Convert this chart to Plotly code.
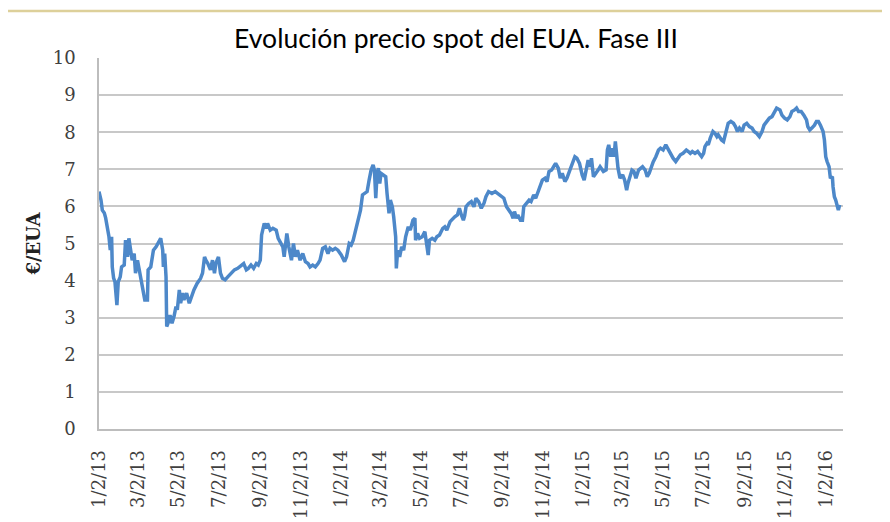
import pandas as pd
import plotly.graph_objects as go

title_text = "Evolución precio spot del EUA. Fase III"
y_title = "€/EUA"
start_date = "2013-01-02"
end_date = "2016-01-28"

tick_labels = ["1/2/13", "3/2/13", "5/2/13", "7/2/13", "9/2/13", "11/2/13",
               "1/2/14", "3/2/14", "5/2/14", "7/2/14", "9/2/14", "11/2/14",
               "1/2/15", "3/2/15", "5/2/15", "7/2/15", "9/2/15", "11/2/15",
               "1/2/16"]

# days since 2013-01-02 and spot price (EUR/EUA)
days_a = [0, 3, 5, 8, 10, 13, 15, 17, 19, 20,
          22, 24, 27, 29, 32, 34, 38, 40, 43, 45,
          48, 50, 53, 55, 58, 63, 67, 69, 73, 74,
          78, 82, 86, 91, 93, 96, 97, 99, 101, 102,
          104, 107, 110, 113, 116, 118, 121, 123, 126, 128,
          132, 136, 139, 143, 148, 153, 156, 159, 161, 164,
          168, 171, 174, 176, 180, 183, 186, 190, 194, 199,
          204, 209, 214, 218, 222, 225, 229, 233, 237, 240,
          243, 245, 249, 252, 254, 258, 262, 267, 270, 274]
price_a = [6.40, 6.17, 5.90, 5.82, 5.69, 5.42, 5.18, 4.82, 5.18, 4.37,
           4.07, 3.97, 3.34, 3.97, 4.10, 4.37, 4.42, 5.09, 4.64, 5.14,
           4.82, 4.55, 4.73, 4.20, 4.55, 4.10, 3.75, 3.48, 3.48, 4.29,
           4.37, 4.82, 4.91, 5.09, 5.14, 4.82, 4.37, 4.73, 4.10, 2.76,
           2.85, 3.07, 2.85, 3.03, 3.30, 3.21, 3.75, 3.39, 3.66, 3.48,
           3.66, 3.39, 3.57, 3.75, 3.93, 4.06, 4.20, 4.64, 4.55, 4.46,
           4.29, 4.55, 4.20, 4.46, 4.64, 4.20, 4.06, 4.02, 4.10, 4.20,
           4.29, 4.33, 4.39, 4.46, 4.29, 4.33, 4.42, 4.33, 4.46, 4.42,
           4.55, 5.23, 5.54, 5.41, 5.54, 5.36, 5.41, 5.36, 5.14, 5.00]

days_b = [277, 279, 283, 286, 290, 293, 296, 299, 303, 307,
          311, 315, 318, 322, 326, 330, 333, 337, 341, 345,
          348, 352, 356, 360, 365, 370, 373, 377, 380, 383,
          387, 390, 394, 397, 400, 404, 407, 410, 413, 415,
          417, 419, 421, 423, 425, 429, 432, 434, 437, 439,
          442, 444, 447, 448, 450, 453, 456, 459, 462, 466,
          469, 473, 476, 477, 480, 483, 487, 491, 493, 496,
          498, 502, 506, 509, 513, 518, 521, 524, 529, 533,
          536, 540, 543, 546, 549, 551, 553, 557, 561, 565]
price_b = [4.91, 4.64, 5.27, 4.91, 4.55, 5.00, 4.64, 4.82, 4.55, 4.73,
           4.51, 4.46, 4.37, 4.42, 4.37, 4.46, 4.55, 4.87, 4.91, 4.73,
           4.87, 4.82, 4.87, 4.82, 4.69, 4.51, 4.64, 5.00, 4.96, 5.09,
           5.36, 5.63, 5.90, 6.31, 6.35, 6.40, 6.71, 6.98, 7.12, 6.98,
           6.22, 6.89, 7.03, 6.62, 6.89, 6.85, 6.80, 6.35, 5.81, 6.17,
           5.99, 5.72, 5.18, 4.33, 4.82, 4.64, 4.91, 4.82, 5.18, 5.45,
           5.36, 5.63, 5.68, 5.09, 5.27, 5.14, 5.18, 5.32, 5.09, 4.69,
           5.09, 5.14, 5.09, 5.18, 5.23, 5.41, 5.45, 5.36, 5.59, 5.68,
           5.72, 5.77, 5.95, 5.77, 5.63, 5.75, 5.99, 6.08, 6.13, 5.99]

days_c = [568, 572, 576, 580, 583, 587, 592, 597, 603, 606,
          610, 614, 618, 621, 624, 626, 629, 631, 635, 638,
          640, 644, 648, 651, 655, 658, 662, 665, 668, 672,
          675, 678, 682, 685, 688, 692, 695, 698, 702, 705,
          709, 713, 717, 720, 724, 728, 731, 734, 737, 740,
          742, 745, 749, 752, 755, 760, 764, 766, 768, 771,
          773, 776, 778, 780, 782, 785, 789, 792, 795, 797,
          800, 803, 806, 809, 813, 816, 819, 823, 826, 829]
price_c = [6.22, 6.13, 5.95, 6.08, 6.26, 6.40, 6.35, 6.40, 6.31, 6.26,
           6.22, 5.99, 5.90, 5.81, 5.68, 5.86, 5.68, 5.77, 5.63, 5.63,
           5.99, 6.08, 6.17, 6.13, 6.31, 6.22, 6.44, 6.53, 6.71, 6.76,
           6.67, 6.94, 6.98, 7.07, 7.16, 7.03, 6.76, 6.89, 6.67, 6.76,
           6.94, 7.16, 7.34, 7.30, 7.16, 6.85, 6.71, 6.98, 7.25, 7.07,
           7.30, 6.80, 6.89, 6.98, 7.07, 6.94, 6.98, 7.52, 7.66, 7.34,
           7.57, 7.34, 7.75, 7.25, 7.03, 6.76, 6.85, 6.71, 6.44, 6.62,
           6.85, 6.98, 6.94, 6.76, 6.98, 7.03, 7.07, 6.98, 6.80, 6.89]

days_d = [833, 835, 839, 843, 846, 850, 854, 858, 861, 865,
          869, 873, 876, 880, 885, 888, 891, 894, 898, 902,
          905, 908, 911, 913, 916, 918, 921, 925, 928, 931,
          933, 936, 938, 941, 943, 946, 948, 952, 956, 959,
          962, 965, 969, 972, 976, 980, 984, 987, 991, 995,
          999, 1002, 1006, 1010, 1014, 1018, 1021, 1026, 1029, 1033,
          1037, 1041, 1044, 1048, 1051, 1054, 1058, 1062, 1066, 1068,
          1071, 1074, 1078, 1081, 1084, 1087, 1091, 1093, 1095, 1097,
          1100, 1102, 1105, 1106, 1108, 1110, 1112, 1114, 1116]
price_d = [7.12, 7.20, 7.34, 7.52, 7.57, 7.52, 7.66, 7.52, 7.39, 7.30,
           7.21, 7.30, 7.39, 7.43, 7.52, 7.48, 7.43, 7.48, 7.43, 7.48,
           7.39, 7.34, 7.43, 7.61, 7.70, 7.66, 7.84, 8.02, 7.97, 7.88,
           7.93, 7.84, 7.79, 7.75, 7.88, 8.06, 8.24, 8.29, 8.24, 8.15,
           8.02, 8.11, 8.02, 8.19, 8.24, 8.15, 8.11, 8.02, 7.97, 7.88,
           8.02, 8.19, 8.29, 8.38, 8.42, 8.56, 8.65, 8.60, 8.46, 8.38,
           8.33, 8.42, 8.56, 8.60, 8.65, 8.56, 8.56, 8.46, 8.33, 8.15,
           8.06, 8.11, 8.19, 8.29, 8.29, 8.19, 8.02, 7.79, 7.34, 7.21,
           7.07, 6.76, 6.80, 6.53, 6.26, 6.17, 5.99, 5.90, 6.04]

days = days_a + days_b + days_c + days_d
price = price_a + price_b + price_c + price_d
assert len(days) == len(price)

dates = pd.Timestamp(start_date) + pd.to_timedelta(days, unit="D")
tick_vals = pd.to_datetime(tick_labels, format="%m/%d/%y")

fig = go.Figure()
fig.add_trace(go.Scatter(
    x=dates, y=price, mode="lines",
    line=dict(color="#4D88C9", width=3.5),
    hoverinfo="x+y",
))

tick_font = dict(family="DejaVu Serif", size=18, color="#404040")
axis_line = "#BDBDBD"

fig.update_layout(
    width=890, height=522,
    margin=dict(l=91, r=55, t=50, b=101),
    paper_bgcolor="white", plot_bgcolor="white",
    showlegend=False,
    title=dict(text=title_text, x=0.5034, xanchor="center",
               y=0.9406, yanchor="middle", xref="container", yref="container",
               font=dict(family="Lato", size=26.5, color="#000000")),
    xaxis=dict(
        type="date", range=[start_date, end_date], automargin=False,
        tickmode="array", tickvals=tick_vals, ticktext=tick_labels,
        tickangle=-90, tickfont=tick_font, ticklabelstandoff=12,
        showgrid=False, zeroline=False,
        showline=True, linecolor=axis_line, linewidth=1.5, ticks="",
    ),
    yaxis=dict(
        range=[0, 10], dtick=1, tick0=0, tickfont=tick_font,
        ticklabelstandoff=18, automargin=False,
        showgrid=True, gridcolor="#C8C8C8", gridwidth=1.5,
        zeroline=False, showline=True, linecolor=axis_line, linewidth=1.5,
        ticks="",
        title=dict(text=y_title, standoff=7,
                   font=dict(family="DejaVu Serif", size=18, color="#222222",
                             weight="bold")),
    ),
    shapes=[
        dict(type="line", xref="paper", yref="paper", x0=-0.125, x1=1.08,
             y0=1.1267, y1=1.1267, line=dict(color="#DDD09A", width=2.5)),
        dict(type="line", xref="paper", yref="paper", x0=-0.125, x1=-0.125,
             y0=1.1267, y1=-0.27, line=dict(color="#DDD09A", width=2.5)),
    ],
)

fig.write_html("out.html")
